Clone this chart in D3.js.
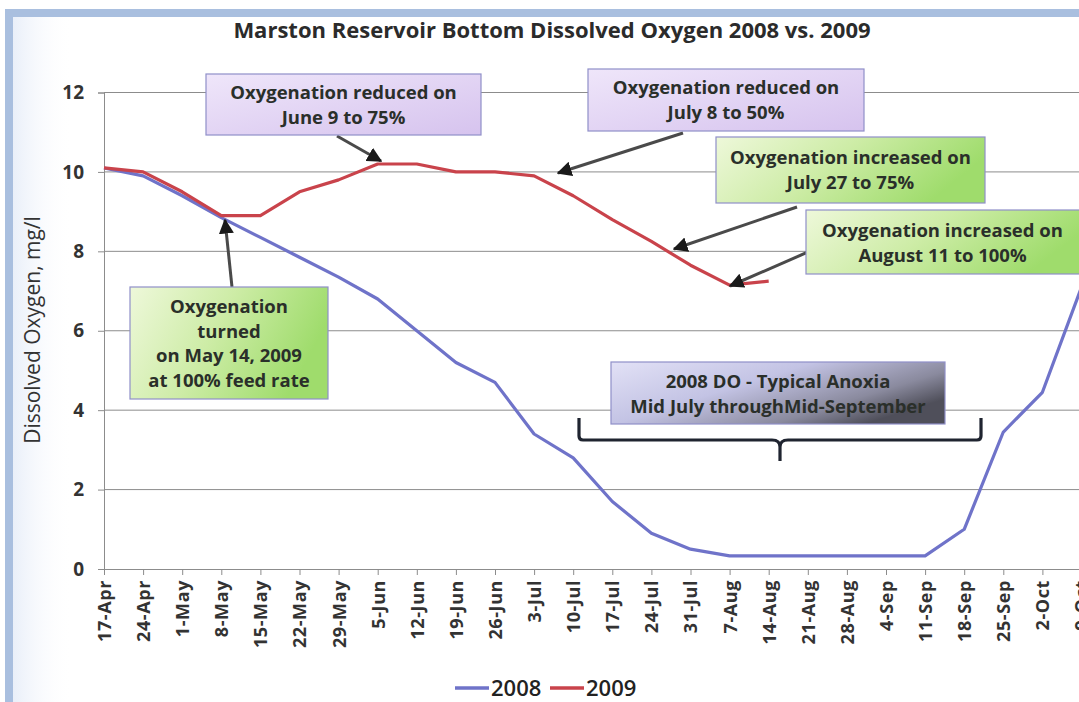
<!DOCTYPE html>
<html><head><meta charset="utf-8">
<script src="https://cdn.jsdelivr.net/npm/d3@7"></script>
<style>
html,body{margin:0;padding:0;background:#fff;}
svg{display:block;}
text{font-family:"Open Sans",Lato,sans-serif;}
</style></head>
<body>
<svg id="c" width="1079" height="702"></svg>
<script>
const categories = ["17-Apr","24-Apr","1-May","8-May","15-May","22-May","29-May","5-Jun","12-Jun","19-Jun","26-Jun","3-Jul","10-Jul","17-Jul","24-Jul","31-Jul","7-Aug","14-Aug","21-Aug","28-Aug","4-Sep","11-Sep","18-Sep","25-Sep","2-Oct","9-Oct"];
const do2008 = [10.1,9.9,9.4,8.85,8.35,7.85,7.35,6.8,6.0,5.2,4.7,3.4,2.8,1.7,0.9,0.5,0.33,0.33,0.33,0.33,0.33,0.33,1.0,3.45,4.45,7.1];
const do2009 = [10.1,10.0,9.5,8.9,8.9,9.5,9.8,10.2,10.2,10.0,10.0,9.9,9.4,8.8,8.25,7.65,7.15,7.25];
const yTicks = [0,2,4,6,8,10,12];
const seriesNames = ["2008","2009"];
const seriesColors = ["#6f73c9","#c9434b"];

const svg = d3.select("#c");
const defs = svg.append("defs");
const FONT = "'Open Sans', Lato, sans-serif";

// page frame
svg.append("rect").attr("x",5).attr("y",9).attr("width",1074).attr("height",8).attr("fill","#a9bfdf");
svg.append("rect").attr("x",5).attr("y",9).attr("width",8).attr("height",693).attr("fill","#a9bfdf");
const lg = defs.append("linearGradient").attr("id","leftfade").attr("x1",0).attr("x2",1).attr("y1",0).attr("y2",0);
lg.append("stop").attr("offset",0).attr("stop-color","#e9eff9");
lg.append("stop").attr("offset",1).attr("stop-color","#ffffff").attr("stop-opacity",0);
svg.append("rect").attr("x",13).attr("y",17).attr("width",60).attr("height",685).attr("fill","url(#leftfade)");

const x = d3.scalePoint().domain(categories).range([104, 104 + 25*39.1]).padding(0);
const y = d3.scaleLinear().domain([0,12]).range([569, 92.5]);

// gridlines
svg.append("g").selectAll("line").data(yTicks.filter(d=>d>0)).join("line")
  .attr("x1",104).attr("x2",1079).attr("y1",d=>y(d)).attr("y2",d=>y(d))
  .attr("stroke","#8c8c8c").attr("stroke-width",1);

// y axis
const ya = svg.append("g").attr("transform","translate(104,0)").call(d3.axisLeft(y).tickValues(yTicks).tickSize(6).tickPadding(14));
ya.select(".domain").attr("stroke","#8c8c8c");
ya.selectAll(".tick line").attr("stroke","#8c8c8c");
ya.selectAll(".tick text").attr("font-size",19).attr("font-weight","bold").attr("fill","#333").style("font-family",FONT);

// x axis
const xa = svg.append("g").attr("transform","translate(0,569)").call(d3.axisBottom(x).tickSize(6).tickSizeOuter(0));
xa.select(".domain").attr("stroke","#8c8c8c");
xa.selectAll(".tick line").attr("stroke","#8c8c8c");
xa.selectAll(".tick text").attr("font-size",18).attr("font-weight","bold").attr("fill","#333")
  .style("font-family",FONT).style("letter-spacing","0.6px")
  .attr("transform","rotate(-90)").attr("text-anchor","end").attr("dx","-11").attr("dy","0.36em").attr("y",0).attr("x",0);

// series
const line = d3.line().x((d,i)=>x(categories[i])).y(d=>y(d)).defined(d=>d!=null);
[do2008, do2009].forEach((s,k)=>{
  svg.append("path").datum(s).attr("d",line).attr("fill","none")
    .attr("stroke",seriesColors[k]).attr("stroke-width",3.2).attr("stroke-linejoin","round");
});

// title
svg.append("text").attr("x",552).attr("y",38).attr("text-anchor","middle")
  .attr("font-size",22).attr("font-weight","bold").attr("fill","#2b2b2b")
  .text("Marston Reservoir Bottom Dissolved Oxygen 2008 vs. 2009");

// y label
svg.append("text").attr("transform","translate(40,330) rotate(-90)").attr("text-anchor","middle")
  .attr("font-size",21).attr("fill","#333").text("Dissolved Oxygen, mg/l");

// legend
const leg = svg.append("g");
[[455,"2008"],[550,"2009"]].forEach((p,k)=>{
  leg.append("line").attr("x1",p[0]).attr("x2",p[0]+34).attr("y1",688).attr("y2",688)
    .attr("stroke",seriesColors[k]).attr("stroke-width",3.5);
  leg.append("text").attr("x",p[0]+36).attr("y",696).attr("font-size",22).attr("font-weight","600").attr("fill","#222").text(p[1]);
});

// gradients
function grad(id, stops, x2, y2){
  const g = defs.append("linearGradient").attr("id",id).attr("x1",0).attr("y1",0).attr("x2",x2).attr("y2",y2);
  stops.forEach(s=>g.append("stop").attr("offset",s[0]).attr("stop-color",s[1]));
}
grad("purp",[[0,"#efe6fa"],[1,"#d6c3ee"]],1,1);
grad("green",[[0,"#eef8da"],[0.5,"#cdeca6"],[1,"#9fdc6c"]],1,0.3);
grad("anox",[[0,"#e2e1f6"],[0.45,"#c3c3e4"],[0.8,"#8a8a9e"],[1,"#4f4f5a"]],1,0.6);

// arrowhead
defs.append("marker").attr("id","ah").attr("viewBox","0 0 10 10").attr("refX",9).attr("refY",5)
  .attr("markerWidth",5).attr("markerHeight",5).attr("orient","auto-start-reverse")
  .attr("markerUnits","strokeWidth")
  .append("path").attr("d","M0,0 L10,5 L0,10 z").attr("fill","#1a1a1a");

const arrows = [
  [337,136,381,161],
  [683,133,558,173],
  [797,207,674,249],
  [808,252,730,286],
  [232,287,225,220]
];
arrows.forEach(a=>{
  svg.append("line").attr("x1",a[0]).attr("y1",a[1]).attr("x2",a[2]).attr("y2",a[3])
    .attr("stroke","#4a4a4a").attr("stroke-width",3).attr("marker-end","url(#ah)");
});

const boxes = [
  {x:206,y:74,w:275,h:61,fill:"url(#purp)",lines:["Oxygenation reduced on","June 9 to 75%"],ly:[99,124]},
  {x:588,y:69,w:276,h:62,fill:"url(#purp)",lines:["Oxygenation reduced on","July 8 to 50%"],ly:[94,119]},
  {x:716,y:137,w:269,h:66,fill:"url(#green)",lines:["Oxygenation increased on","July 27 to 75%"],ly:[164,189]},
  {x:806,y:210,w:280,h:64,fill:"url(#green)",lines:["Oxygenation increased on","August 11 to 100%"],ly:[237,262]},
  {x:130,y:287,w:198,h:112,fill:"url(#green)",lines:["Oxygenation","turned","on May 14, 2009","at 100% feed rate"],ly:[313,338,362,387]},
  {x:611,y:362,w:334,h:62,fill:"url(#anox)",lines:["2008 DO - Typical Anoxia","Mid July throughMid-September"],ly:[388,413]}
];
boxes.forEach(b=>{
  svg.append("rect").attr("x",b.x).attr("y",b.y).attr("width",b.w).attr("height",b.h)
    .attr("fill",b.fill).attr("stroke","#8f8fc9").attr("stroke-width",1.2);
  const cx = b.x + b.w/2 - (b.x+b.w>1079 ? (b.x+b.w-1079)/2 : 0);
  b.lines.forEach((t,i)=>{
    svg.append("text").attr("x",cx).attr("y",b.ly[i]).attr("text-anchor","middle")
      .attr("font-size",18.5).attr("font-weight","bold").attr("fill","#2a2f2a").text(t);
  });
});

// brace
svg.append("path").attr("d","M579,418 L579,436 Q579,440 583,440 L772,440 Q780,440 780,447 L780,461 M780,447 Q780,440 788,440 L977,440 Q981,440 981,436 L981,418")
  .attr("fill","none").attr("stroke","#1f2430").attr("stroke-width",3.2);
</script>
</body></html>
